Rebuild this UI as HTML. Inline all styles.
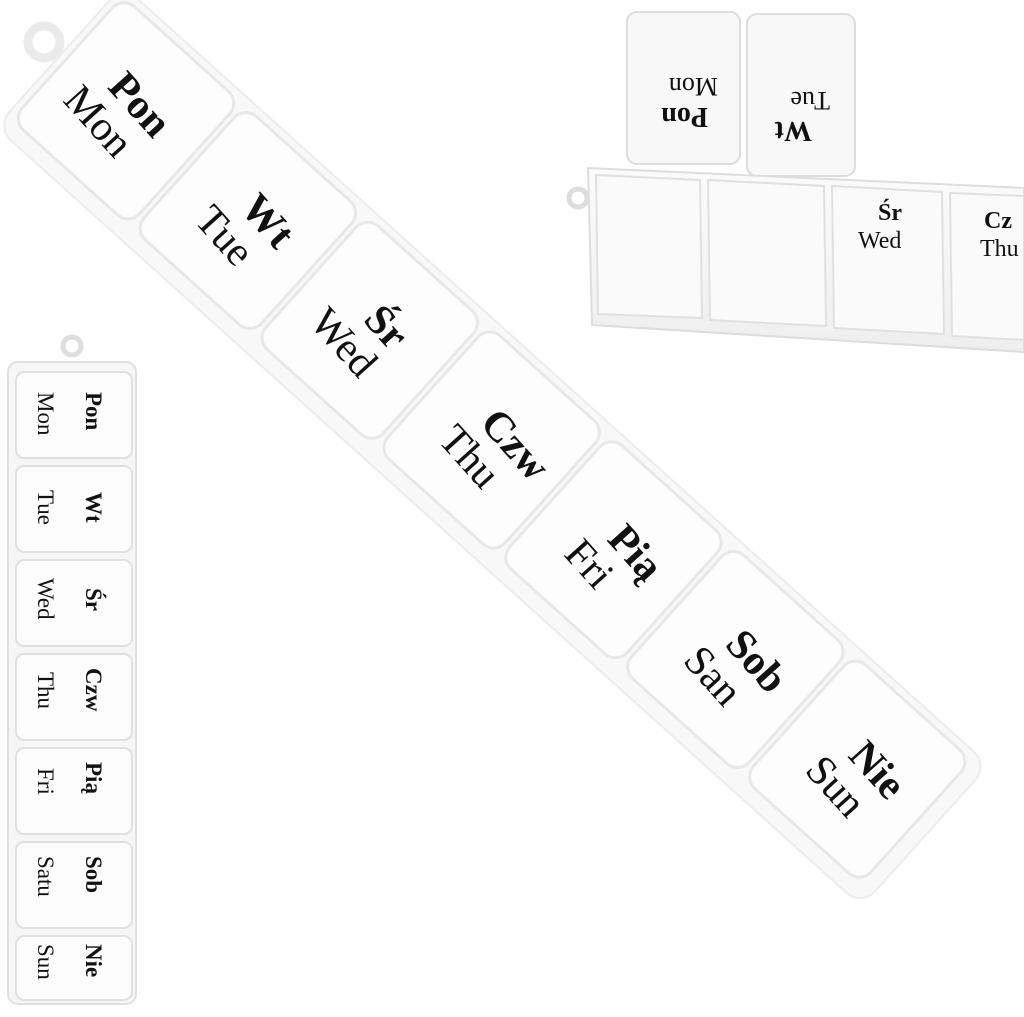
<!DOCTYPE html>
<html><head><meta charset="utf-8"><style>
html,body{margin:0;padding:0;background:#fff;}
svg{display:block;}
text{font-family:"Liberation Serif",serif;fill:#111;}
.b{font-weight:bold;}
</style></head><body>
<svg width="1024" height="1017" viewBox="0 0 1024 1017" xmlns="http://www.w3.org/2000/svg">
<defs>
<linearGradient id="g" x1="0" y1="0" x2="0" y2="1"><stop offset="0" stop-color="#fbfbfb"/><stop offset="1" stop-color="#eeeeee"/></linearGradient>
</defs>

<!-- Main diagonal strip -->
<circle cx="44" cy="42" r="16" fill="none" stroke="#eaeaea" stroke-width="9"/>
<g transform="translate(128,122) rotate(42)">
  <rect x="-95" y="-98" width="1165" height="190" rx="20" fill="#f8f8f8" stroke="#ececec" stroke-width="2"/>
  <g fill="#fdfdfd" stroke="#e8e8e8" stroke-width="3">
    <rect x="-88" y="-90" width="158" height="166" rx="16"/>
    <rect x="76" y="-90" width="158" height="166" rx="16"/>
    <rect x="240" y="-90" width="158" height="166" rx="16"/>
    <rect x="404" y="-90" width="158" height="166" rx="16"/>
    <rect x="568" y="-90" width="158" height="166" rx="16"/>
    <rect x="732" y="-90" width="158" height="166" rx="16"/>
    <rect x="896" y="-90" width="158" height="166" rx="16"/>
  </g>
  <g font-size="42">
    <g transform="translate(-10,0) rotate(6)"><text class="b" x="-30" y="-8">Pon</text><text x="-50" y="34">Mon</text></g>
    <g transform="translate(154,0) rotate(6)"><text class="b" x="-14" y="-8">Wt</text><text x="-36" y="34">Tue</text></g>
    <g transform="translate(318,0) rotate(6)"><text class="b" x="-12" y="-8">Śr</text><text x="-46" y="34">Wed</text></g>
    <g transform="translate(482,0) rotate(6)"><text class="b" x="-20" y="-8">Czw</text><text x="-36" y="34">Thu</text></g>
    <g transform="translate(646,0) rotate(6)"><text class="b" x="-12" y="-8">Pią</text><text x="-30" y="34">Fri</text></g>
    <g transform="translate(810,0) rotate(6)"><text class="b" x="-18" y="-8">Sob</text><text x="-34" y="34">San</text></g>
    <g transform="translate(974,0) rotate(6)"><text class="b" x="-16" y="-8">Nie</text><text x="-34" y="34">Sun</text></g>
  </g>
</g>

<!-- Top-right box -->
<g>
  <rect x="627" y="12" width="113" height="152" rx="10" fill="#f8f8f8" stroke="#ddd" stroke-width="2"/>
  <rect x="747" y="14" width="108" height="162" rx="10" fill="#f8f8f8" stroke="#ddd" stroke-width="2"/>
  <text class="b" font-size="28" transform="translate(708,108) rotate(180)">Pon</text>
  <text font-size="26" transform="translate(718,78) rotate(180)">Mon</text>
  <text class="b" font-size="28" transform="translate(812,122) rotate(180)">Wt</text>
  <text font-size="26" transform="translate(830,92) rotate(180)">Tue</text>
  <circle cx="578" cy="198" r="9" fill="none" stroke="#ddd" stroke-width="5"/>
  <polygon points="588,168 1024,188 1024,352 592,325" fill="url(#g)" stroke="#ddd" stroke-width="2"/>
  <g fill="#fafafa" stroke="#e0e0e0" stroke-width="2">
    <polygon points="596,175 700,180 702,318 598,314"/>
    <polygon points="708,180 824,186 826,326 710,320"/>
    <polygon points="832,186 942,192 944,334 834,328"/>
    <polygon points="950,193 1024,196 1024,340 952,336"/>
  </g>
  <text class="b" x="878" y="220" font-size="24">Śr</text>
  <text x="858" y="248" font-size="24">Wed</text>
  <text class="b" x="984" y="228" font-size="24">Cz</text>
  <text x="980" y="256" font-size="24">Thu</text>
</g>

<!-- Left vertical strip -->
<circle cx="72" cy="346" r="9" fill="none" stroke="#ddd" stroke-width="5"/>
<rect x="8" y="362" width="128" height="642" rx="10" fill="#f6f6f6" stroke="#e0e0e0" stroke-width="2"/>
<g fill="#fcfcfc" stroke="#e0e0e0" stroke-width="2">
  <rect x="16" y="372" width="116" height="86" rx="8"/>
  <rect x="16" y="466" width="116" height="86" rx="8"/>
  <rect x="16" y="560" width="116" height="86" rx="8"/>
  <rect x="16" y="654" width="116" height="86" rx="8"/>
  <rect x="16" y="748" width="116" height="86" rx="8"/>
  <rect x="16" y="842" width="116" height="86" rx="8"/>
  <rect x="16" y="936" width="116" height="64" rx="8"/>
</g>
<g font-size="23">
  <text class="b" transform="translate(86,392) rotate(90)">Pon</text><text transform="translate(38,392) rotate(90)">Mon</text>
  <text class="b" transform="translate(86,492) rotate(90)">Wt</text><text transform="translate(38,490) rotate(90)">Tue</text>
  <text class="b" transform="translate(86,588) rotate(90)">Śr</text><text transform="translate(38,578) rotate(90)">Wed</text>
  <text class="b" transform="translate(86,668) rotate(90)">Czw</text><text transform="translate(38,672) rotate(90)">Thu</text>
  <text class="b" transform="translate(86,762) rotate(90)">Pią</text><text transform="translate(38,768) rotate(90)">Fri</text>
  <text class="b" transform="translate(86,856) rotate(90)">Sob</text><text transform="translate(38,856) rotate(90)">Satu</text>
  <text class="b" transform="translate(86,944) rotate(90)">Nie</text><text transform="translate(38,944) rotate(90)">Sun</text>
</g>
</svg>
</body></html>
